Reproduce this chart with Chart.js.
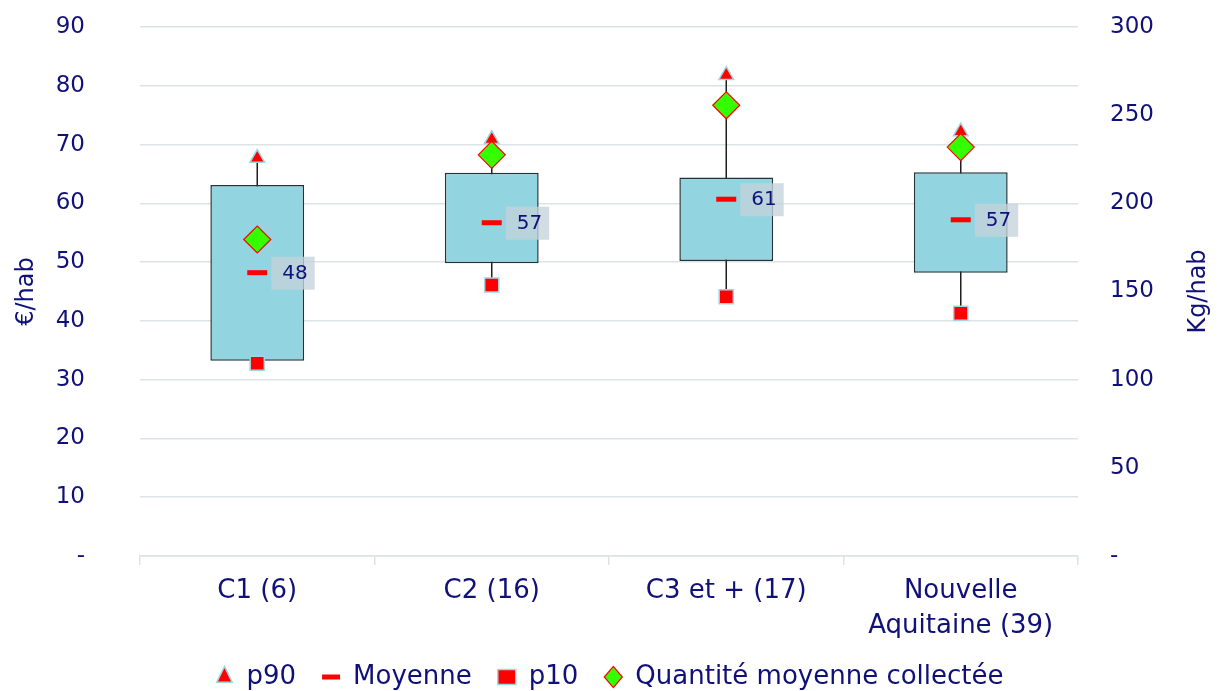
<!DOCTYPE html>
<html lang="fr">
<head>
  <meta charset="UTF-8">
  <title>Coût et quantité collectée par habitant</title>
  <style>
    html, body { margin: 0; padding: 0; background: #fff; }
    #wrap { width: 1219px; height: 691px; }
  </style>
</head>
<body>
  <div id="wrap"><canvas id="boxChart"></canvas></div>
  <script src="https://cdn.jsdelivr.net/npm/chart.js"></script>
  <script>
    const categories = ['C1 (6)', 'C2 (16)', 'C3 et + (17)', ['Nouvelle', 'Aquitaine (39)']];
    // €/hab
    const boxLow = [33.2, 49.8, 50.2, 48.2];
    const boxHigh = [63.1, 65.2, 64.4, 65.3];
    const p90 = [67.7, 70.9, 81.8, 72.2];
    const p10 = [32.8, 46.1, 44.1, 41.3];
    const moyenne = [48.2, 56.7, 60.7, 57.2];
    // Kg/hab
    const quantite = [179.5, 227.5, 255.6, 231.9];
    const leftTicks = [0, 90, 10];
    const rightTicks = [0, 300, 50];

    const navy = '#10107a';
    const gridColor = '#dce3e5';
    Chart.defaults.font.family = "'DejaVu Sans', sans-serif";
    Chart.defaults.color = navy;

    const whiskers = {
      id: 'whiskers',
      beforeDatasetsDraw(chart) {
        const { ctx, scales: { x, y } } = chart;
        ctx.save();
        ctx.strokeStyle = '#1e1e1e';
        ctx.lineWidth = 1.5;
        categories.forEach((c, i) => {
          const px = x.getPixelForValue(i);
          ctx.beginPath();
          ctx.moveTo(px, y.getPixelForValue(p10[i]));
          ctx.lineTo(px, y.getPixelForValue(p90[i]));
          ctx.stroke();
        });
        ctx.restore();
      }
    };

    const meanLabels = {
      id: 'meanLabels',
      afterDatasetsDraw(chart) {
        const { ctx } = chart;
        const meta = chart.getDatasetMeta(2);
        ctx.save();
        ctx.font = "20px 'DejaVu Sans', sans-serif";
        ctx.textBaseline = 'middle';
        meta.data.forEach((pt, i) => {
          const txt = String(Math.round(moyenne[i]));
          const w = ctx.measureText(txt).width;
          const left = pt.x + 14;
          ctx.fillStyle = 'rgba(196, 210, 219, 0.78)';
          ctx.fillRect(left, pt.y - 16, w + 18, 33);
          ctx.fillStyle = navy;
          ctx.fillText(txt, left + 11, pt.y + 1);
        });
        ctx.restore();
      }
    };

    // titre de l'axe droit, lu de bas en haut comme à gauche
    const rightTitle = {
      id: 'rightTitle',
      afterDraw(chart) {
        const { ctx, scales: { y1 } } = chart;
        ctx.save();
        ctx.translate(y1.right - 20, (y1.top + y1.bottom) / 2);
        ctx.rotate(-Math.PI / 2);
        ctx.font = "24px 'DejaVu Sans', sans-serif";
        ctx.fillStyle = navy;
        ctx.textAlign = 'center';
        ctx.textBaseline = 'middle';
        ctx.fillText('Kg/hab', 0, 0);
        ctx.restore();
      }
    };

    const ctx = document.getElementById('boxChart').getContext('2d');
    new Chart(ctx, {
      type: 'bar',
      data: {
        labels: categories,
        datasets: [
          {
            label: 'boîte',
            data: boxLow.map((v, i) => [v, boxHigh[i]]),
            backgroundColor: '#92d5e1',
            borderColor: '#263238',
            borderWidth: 1.5,
            borderSkipped: false,
            barPercentage: 0.4,
            categoryPercentage: 1,
            yAxisID: 'y',
            order: 10
          },
          {
            type: 'line',
            label: 'p90',
            data: p90,
            showLine: false,
            pointStyle: 'triangle',
            pointRadius: 8.5,
            backgroundColor: '#ff0000',
            borderColor: '#9cd7e4',
            borderWidth: 1.5,
            yAxisID: 'y',
            order: 3
          },
          {
            type: 'line',
            label: 'Moyenne',
            data: moyenne,
            showLine: false,
            pointStyle: 'line',
            pointRadius: 10,
            backgroundColor: '#ff0000',
            borderColor: '#ff0000',
            borderWidth: 5,
            yAxisID: 'y',
            order: 2
          },
          {
            type: 'line',
            label: 'p10',
            data: p10,
            showLine: false,
            pointStyle: 'rect',
            pointRadius: 10,
            backgroundColor: '#ff0000',
            borderColor: '#9cd7e4',
            borderWidth: 1.5,
            yAxisID: 'y',
            order: 1
          },
          {
            type: 'line',
            label: 'Quantité moyenne collectée',
            data: quantite,
            showLine: false,
            pointStyle: 'rectRot',
            pointRadius: 13.5,
            backgroundColor: '#33ff00',
            borderColor: '#ff0000',
            borderWidth: 1.2,
            yAxisID: 'y1',
            order: 0
          }
        ]
      },
      options: {
        responsive: true,
        maintainAspectRatio: false,
        animation: false,
        events: [],
        layout: { padding: { top: 27, left: 0, right: 0, bottom: -9 } },
        plugins: {
          tooltip: { enabled: false },
          legend: {
            position: 'bottom',
            labels: {
              filter: item => item.datasetIndex > 0,
              sort: (a, b) => a.datasetIndex - b.datasetIndex,
              usePointStyle: true,
              boxWidth: 15,
              boxHeight: 15,
              pointStyleWidth: 18,
              padding: 26,
              color: navy,
              font: { size: 26 }
            }
          }
        },
        scales: {
          x: {
            offset: true,
            grid: { offset: true, drawOnChartArea: false, drawTicks: true, tickLength: 9, color: gridColor, lineWidth: 1.5 },
            border: { display: true, color: gridColor, width: 1.5 },
            ticks: { color: navy, font: { size: 26, lineHeight: 1.35 }, padding: 9, maxRotation: 0, autoSkip: false },
            afterFit: s => { s.height = 82; }
          },
          y: {
            position: 'left',
            min: leftTicks[0],
            max: leftTicks[1],
            ticks: { stepSize: leftTicks[2], padding: 3, color: navy, font: { size: 23 }, callback: v => v === 0 ? '-' : v },
            grid: { color: gridColor, lineWidth: 1.5, drawTicks: true, tickLength: 52, tickColor: 'rgba(0,0,0,0)' },
            border: { display: false },
            title: { display: true, text: '€/hab', color: navy, font: { size: 24 }, padding: { top: 12, bottom: 0 } },
            afterFit: s => { s.width = 140; }
          },
          y1: {
            position: 'right',
            min: rightTicks[0],
            max: rightTicks[1],
            ticks: { stepSize: rightTicks[2], padding: 3, color: navy, font: { size: 23 }, callback: v => v === 0 ? '-' : v },
            grid: { drawOnChartArea: false, drawTicks: true, tickLength: 29, tickColor: 'rgba(0,0,0,0)' },
            border: { display: false },
            afterFit: s => { s.width = 141; }
          }
        }
      },
      plugins: [whiskers, meanLabels, rightTitle]
    });
  </script>
</body>
</html>
